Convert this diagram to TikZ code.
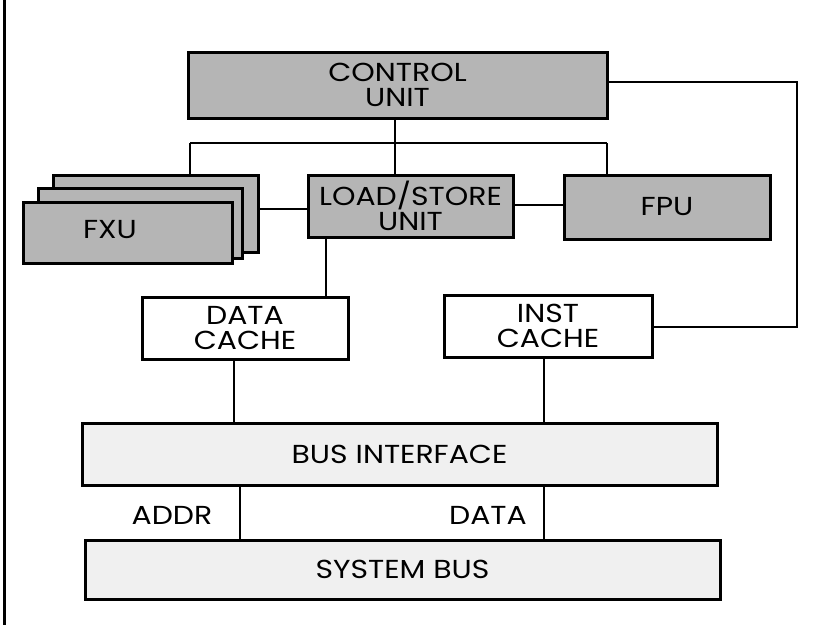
\documentclass[tikz,border=0pt]{standalone}
\usepackage{fontspec}
\setmainfont{Poppins}[FakeStretch=1.15]
\begin{document}
\begin{tikzpicture}[x=1pt,y=-1pt,
  unitbox/.style={draw=black,line width=3pt,fill=gray!58,rectangle,inner sep=0pt,align=center,font=\fontsize{26}{25}\selectfont},
  busbox/.style={draw=black,line width=3pt,fill=gray!12,rectangle,inner sep=0pt,align=center,font=\fontsize{26}{25}\selectfont},
  cachebox/.style={draw=black,line width=3pt,fill=white,rectangle,inner sep=0pt,align=center,font=\fontsize{26}{25}\selectfont},
  wire/.style={draw=black,line width=2.6pt},
  lbl/.style={font=\fontsize{26}{25}\selectfont,inner sep=0pt}]
\useasboundingbox (0,0) rectangle (834,625);
\draw[line width=3pt] (4,0) -- (4,625);
% nodes
\node[unitbox,minimum width=419pt,minimum height=66pt] (cu) at (397.5,85) {CONTROL\\UNIT};
\node[unitbox,minimum width=205pt,minimum height=77pt] (fxu3) at (155.5,213.5) {};
\node[unitbox,minimum width=204pt,minimum height=70pt] (fxu2) at (140,223) {};
\node[unitbox,minimum width=209pt,minimum height=61pt] (fxu1) at (127.5,232.5) {};
\node[lbl] (fxut) at (110,230) {FXU};
\node[unitbox,minimum width=205pt,minimum height=62pt] (ls) at (410.5,206) {LOAD/STORE\\UNIT};
\node[unitbox,minimum width=206pt,minimum height=64pt] (fpu) at (667,207) {FPU};
\node[cachebox,minimum width=206pt,minimum height=62pt] (dc) at (245,328) {DATA\\CACHE};
\node[cachebox,minimum width=208pt,minimum height=62pt] (ic) at (548,326) {INST\\CACHE};
\node[busbox,minimum width=635pt,minimum height=62pt] (bi) at (399.5,454) {BUS INTERFACE};
\node[busbox,minimum width=635pt,minimum height=59pt] (sb) at (402.5,569.5) {SYSTEM BUS};
\node[lbl] (addr) at (172,515) {ADDR};
\node[lbl] (data) at (488,515) {DATA};
% junction coordinates
\coordinate (j0) at (395,143);
\coordinate (jl) at (190,143);
\coordinate (jr) at (607,143);
\coordinate (c1) at (797,82);
\coordinate (c2) at (797,327);
% connectors
\draw[wire] (j0 |- cu.south) -- (j0);
\draw[wire] (jl) -- (jr);
\draw[wire] (jl) -- (jl |- fxu3.north);
\draw[wire] (j0) -- (j0 |- ls.north);
\draw[wire] (jr) -- (jr |- fpu.north);
\draw[wire] (fxu3.east |- 0,209) -- (ls.west |- 0,209);
\draw[wire] (ls.east |- 0,205) -- (fpu.west |- 0,205);
\draw[wire] (ls.south -| 326,0) -- (dc.north -| 326,0);
\draw[wire] (cu.east |- c1) -- (c1) -- (c2) -- (ic.east |- c2);
\draw[wire] (dc.south -| 234,0) -- (bi.north -| 234,0);
\draw[wire] (ic.south -| 544,0) -- (bi.north -| 544,0);
\draw[wire] (bi.south -| 240,0) -- (sb.north -| 240,0);
\draw[wire] (bi.south -| 544,0) -- (sb.north -| 544,0);
\end{tikzpicture}
\end{document}
